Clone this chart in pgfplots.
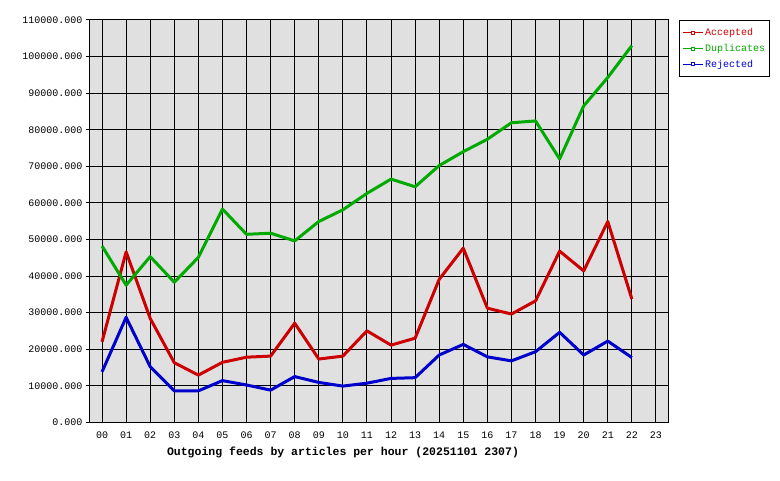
\documentclass[border=0pt]{standalone}
\usepackage{pgfplots}
\pgfplotsset{compat=1.18}
\usepackage{fontspec}
\setmainfont{Liberation Mono}
\definecolor{accred}{HTML}{CC0000}
\definecolor{dupgreen}{HTML}{00AA00}
\definecolor{rejblue}{HTML}{0000CC}
\definecolor{plotbg}{HTML}{E0E0E0}
\begin{document}
\fontsize{10pt}{12pt}\selectfont
\begin{tikzpicture}[x=1pt,y=1pt]
\useasboundingbox[fill=white] (0,0) rectangle (780,480);
\begin{axis}[
  at={(90pt,57.7pt)}, anchor=south west,
  scale only axis, width=578pt, height=402.3pt,
  xmin=-0.5, xmax=23.5, ymin=0, ymax=110000,
  xtick={0,1,...,23},
  xticklabels={00,01,02,03,04,05,06,07,08,09,10,11,12,13,14,15,16,17,18,19,20,21,22,23},
  ytick={0,10000,...,110000},
  scaled y ticks=false,
  /pgf/number format/assume math mode=true,
  yticklabel={\pgfmathprintnumber[fixed,fixed zerofill,precision=3,1000 sep={}]{\tick}},
  tick label style={font=\fontsize{10pt}{12pt}\selectfont},
  xticklabel style={yshift=-2pt},
  grid=major, major grid style={black, line width=1pt},
  axis line style={black, line width=1pt},
  axis background/.style={fill=plotbg},
  tick align=outside, major tick length=4pt,
  ytick pos=left,
  ytick style={black, line width=1pt},
  xtick style={draw=none},
  legend style={at={(1,1)}, anchor=north west, xshift=11pt, draw=black, line width=1pt,
    fill=white, font=\fontsize{10pt}{12pt}\selectfont, inner xsep=3pt, inner ysep=6.5pt, row sep=4pt,
    nodes={inner sep=1.5pt}},
  legend cell align=left,
  legend image code/.code={%
    \draw[#1, line width=1.2pt] (0pt,0pt) -- (20pt,0pt);
    \draw[#1, line width=0.8pt, fill=white] (8.5pt,-1.5pt) rectangle (11.5pt,1.5pt);},
  every axis plot/.append style={line width=3pt, line join=round},
]
\addplot[accred] coordinates {
(0,22000) (1,46600) (2,28400) (3,16300) (4,12900) (5,16400) (6,17800) (7,18100)
(8,27100) (9,17300) (10,18100) (11,25000) (12,21100) (13,23000) (14,39100) (15,47600)
(16,31200) (17,29600) (18,33200) (19,46800) (20,41400) (21,54900) (22,33700)};
\addlegendentry{\textcolor{accred}{Accepted}}
\addplot[dupgreen] coordinates {
(0,48200) (1,37500) (2,45300) (3,38300) (4,45100) (5,58300) (6,51400) (7,51700)
(8,49600) (9,54900) (10,58100) (11,62600) (12,66500) (13,64400) (14,70200) (15,74000)
(16,77400) (17,81900) (18,82400) (19,72000) (20,86500) (21,94300) (22,103000)};
\addlegendentry{\textcolor{dupgreen}{Duplicates}}
\addplot[rejblue] coordinates {
(0,13800) (1,28700) (2,15200) (3,8600) (4,8600) (5,11400) (6,10200) (7,8800)
(8,12500) (9,10900) (10,9900) (11,10700) (12,12000) (13,12200) (14,18400) (15,21300)
(16,17900) (17,16800) (18,19300) (19,24600) (20,18400) (21,22200) (22,17700)};
\addlegendentry{\textcolor{rejblue}{Rejected}}
\end{axis}
\node[font=\bfseries\fontsize{11.5pt}{13pt}\selectfont] at (343,28) {Outgoing feeds by articles per hour (20251101 2307)};
\end{tikzpicture}
\end{document}
